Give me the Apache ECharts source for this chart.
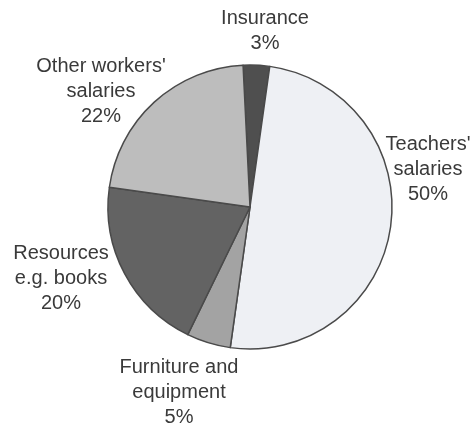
<!DOCTYPE html>
<html>
<head>
<meta charset="utf-8">
<script src="https://cdn.jsdelivr.net/npm/echarts@6/dist/echarts.min.js"></script>
<style>
  html, body { margin: 0; padding: 0; background: #ffffff; }
  #chart { width: 470px; height: 429px; }
</style>
</head>
<body>
<div id="chart"></div>
<script>
// school budget shares, clockwise from the top
const categories = ['Insurance', "Teachers'\nsalaries", 'Furniture and\nequipment', 'Resources\ne.g. books', "Other workers'\nsalaries"];
const shares = [3, 50, 5, 20, 22];

// slice fills, scanned greys
const fills = ['#4f4f4f', '#eef0f4', '#a3a3a3', '#636363', '#bdbdbd'];
// label centres (px)
const labelPos = [[265, 31], [428, 169], [179, 392], [61, 278], [101, 91]];

const chart = echarts.init(document.getElementById('chart'));

chart.setOption({
  backgroundColor: '#ffffff',
  animation: false,
  series: [{
    type: 'pie',
    center: [250, 207],
    radius: 142,
    startAngle: 92.8,
    clockwise: true,
    avoidLabelOverlap: false,
    itemStyle: {
      borderColor: '#4a4a4a',
      borderWidth: 1.5
    },
    label: {
      show: true,
      position: 'outside',
      color: '#3a3a3a',
      fontFamily: 'Liberation Sans, Arial, sans-serif',
      fontSize: 20,
      lineHeight: 25,
      align: 'center',
      formatter: p => p.name + '\n' + p.value + '%'
    },
    labelLine: { show: false },
    labelLayout: p => ({
      x: labelPos[p.dataIndex][0],
      y: labelPos[p.dataIndex][1],
      align: 'center',
      verticalAlign: 'middle'
    }),
    data: categories.map((name, i) => ({
      name: name,
      value: shares[i],
      itemStyle: { color: fills[i] }
    }))
  }]
});
</script>
</body>
</html>
